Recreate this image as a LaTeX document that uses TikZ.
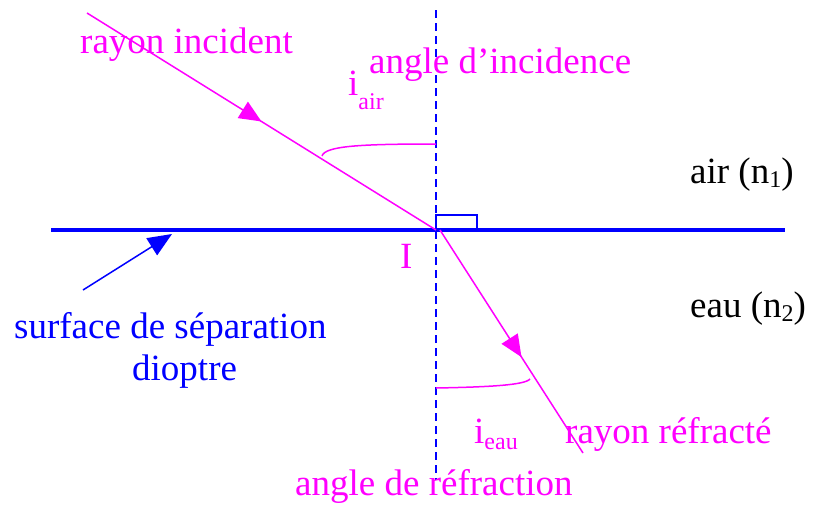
\documentclass[tikz,border=0pt]{standalone}
\usepackage{fontspec}
\setmainfont{Liberation Serif}
\usetikzlibrary{arrows.meta,decorations.markings}
\definecolor{mag}{RGB}{255,0,255}
\definecolor{blu}{RGB}{0,0,255}
\newcommand{\subtx}[2]{\raisebox{-#1pt}{\fontsize{24}{24}\selectfont #2}}
\begin{document}
\begin{tikzpicture}[x=1pt,y=-1pt,
  lbl/.style={anchor=base west, inner sep=0pt, font=\fontsize{37}{40}\selectfont},
  ray/.style={mag, line width=1.5pt},
  arrowmid/.style={postaction={decorate}, decoration={markings,
      mark=at position #1 with {\arrow{Triangle[length=22pt,width=19pt]}}}},
  normale/.style={blu, line width=1.5pt, dash pattern=on 8pt off 5pt},
  surf/.style={blu, line width=3.5pt},
  thinblue/.style={blu, line width=1.5pt},
  arcstyle/.style={mag, line width=1.5pt}]
\useasboundingbox (0,0) rectangle (819,506);
% coordinates
\coordinate (A) at (87,13);
\coordinate (I) at (436,230);
\coordinate (R0) at (440,230);
\coordinate (B) at (583,453);
\coordinate (L) at (51,230);
\coordinate (Rt) at (785,230);
\coordinate (Ntop) at (436,10);
\coordinate (Nbot) at (436,480);
\coordinate (S0) at (83,290);
\coordinate (S1) at (172,234);
\coordinate (Q1) at (436,215);
\coordinate (Q2) at (477,215);
\coordinate (Q3) at (477,230);
\coordinate (Ta) at (322,156);
\coordinate (Tb) at (436,144);
\coordinate (Ba) at (436,388);
\coordinate (Bb) at (530,379);
% normal and surface
\draw[normale] (Ntop) -- (Nbot);
\draw[surf] (L) -- (Rt);
\draw[thinblue] (I) -- (Q1) -- (Q2) -- (Q3);
% rays
\draw[ray, arrowmid=0.5] (A) -- (I);
\draw[ray, arrowmid=0.57] (R0) -- (B);
% angle arcs
\draw[arcstyle] (Ta) .. controls (325,146) and (360,144) .. (Tb);
\draw[arcstyle] (Ba) .. controls (490,387) and (525,385) .. (Bb);
% pointer to surface
\draw[thinblue, -{Triangle[length=24pt,width=20pt]}] (S0) -- (S1);
% labels
\node[lbl, mag] (t1) at (80,53) {rayon incident};
\node[lbl, mag] (t2) at (369,73) {angle d’incidence};
\node[lbl, mag] (t3) at (348,95) {i\subtx{14}{air}};
\node[lbl] (t4) at (690,183) {air (n\subtx{4}{1})};
\node[lbl, mag] (t5) at (400,268) {I};
\node[lbl] (t6) at (690,317) {eau (n\subtx{4}{2})};
\node[lbl, blu] (t7) at (14,338) {surface de séparation};
\node[lbl, blu] (t8) at (132,380) {dioptre};
\node[lbl, mag] (t9) at (474,443) {i\subtx{6}{eau}};
\node[lbl, mag] (t10) at (565,443) {rayon réfracté};
\node[lbl, mag] (t11) at (295,495) {angle de réfraction};
\end{tikzpicture}
\end{document}
